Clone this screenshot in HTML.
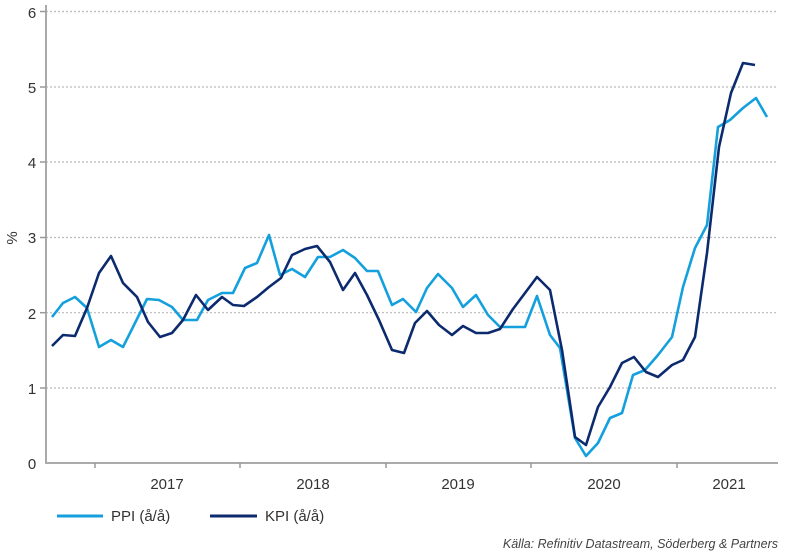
<!DOCTYPE html>
<html><head><meta charset="utf-8"><style>
body{margin:0;background:#fff;}
svg{display:block;font-family:"Liberation Sans",sans-serif;}
</style></head><body>
<svg width="788" height="554" viewBox="0 0 788 554">
<g stroke="#bbb" stroke-width="1.2" stroke-dasharray="2,2">
<line x1="46" y1="11.5" x2="778" y2="11.5"/>
<line x1="46" y1="87" x2="778" y2="87"/>
<line x1="46" y1="162" x2="778" y2="162"/>
<line x1="46" y1="237.5" x2="778" y2="237.5"/>
<line x1="46" y1="312.7" x2="778" y2="312.7"/>
<line x1="46" y1="388" x2="778" y2="388"/>
</g>
<g stroke="#aaa" stroke-width="2">
<line x1="46" y1="5" x2="46" y2="463"/>
<line x1="45" y1="463" x2="778" y2="463"/>
</g>
<g stroke="#999" stroke-width="1.5">
<line x1="95" y1="463" x2="95" y2="468"/><line x1="240" y1="463" x2="240" y2="468"/>
<line x1="386" y1="463" x2="386" y2="468"/><line x1="531" y1="463" x2="531" y2="468"/>
<line x1="677" y1="463" x2="677" y2="468"/>
<line x1="40" y1="11.5" x2="46" y2="11.5"/><line x1="40" y1="87" x2="46" y2="87"/><line x1="40" y1="162" x2="46" y2="162"/><line x1="40" y1="237.5" x2="46" y2="237.5"/><line x1="40" y1="312.7" x2="46" y2="312.7"/><line x1="40" y1="388" x2="46" y2="388"/>
</g>
<g font-size="15" fill="#333" text-anchor="middle">
<text x="32" y="18">6</text><text x="32" y="93">5</text><text x="32" y="168">4</text><text x="32" y="243">3</text><text x="32" y="319">2</text><text x="32" y="394">1</text><text x="32" y="469">0</text>
<text x="167" y="489">2017</text><text x="313" y="489">2018</text><text x="458" y="489">2019</text><text x="604" y="489">2020</text><text x="729" y="489">2021</text>
<text transform="translate(17,238) rotate(-90)">%</text>
</g>
<polyline fill="none" stroke="#14a0dc" stroke-width="2.6" stroke-linejoin="round" points="52,317 63,303 75,297 87,308 99,347 111,340 123,347 135,323 147,299 159,300 172,307 183,320 197,320 208,300 222,293 233,293 245,268 257,263 269,235 280,275 292,269 305,277 318,257 330,257 343,250 355,258 367,271 378,271 392,305 403,299 416,312 427,288 438,274 452,288 463,307 476,295 488,315 500,327 512,327 525,327 537,296 550,335 560,348 575,438 586,456 598,443 610,418 622,413 633,375 645,370 658,355 672,337 683,287 695,248 707,225 718,127 730,120 743,108 756,98 767,117"/>
<polyline fill="none" stroke="#0c2a6e" stroke-width="2.6" stroke-linejoin="round" points="52,346 63,335 75,336 87,308 99,273 111,256 123,283 137,297 148,322 160,337 172,333 183,320 196,295 208,310 222,297 233,305 244,306 257,297 269,287 281,278 292,255 305,249 317,246 330,262 343,290 355,273 367,295 379,320 392,350 404,353 415,323 427,311 439,325 452,335 463,326 476,333 488,333 500,329 513,309 525,293 537,277 550,290 562,350 575,437 586,445 598,407 610,387 622,363 634,357 646,372 658,377 672,365 683,360 695,337 707,253 719,147 731,93 743,63 755,65"/>
<line x1="57" y1="516" x2="103" y2="516" stroke="#14a0dc" stroke-width="3"/>
<line x1="210" y1="516" x2="257" y2="516" stroke="#0c2a6e" stroke-width="3"/>
<g font-size="15" fill="#333">
<text x="111" y="521">PPI (å/å)</text><text x="265" y="521">KPI (å/å)</text>
</g>
<text x="778" y="548" font-size="12.5" font-style="italic" fill="#444" text-anchor="end">Källa: Refinitiv Datastream, Söderberg &amp; Partners</text>
</svg>
</body></html>
